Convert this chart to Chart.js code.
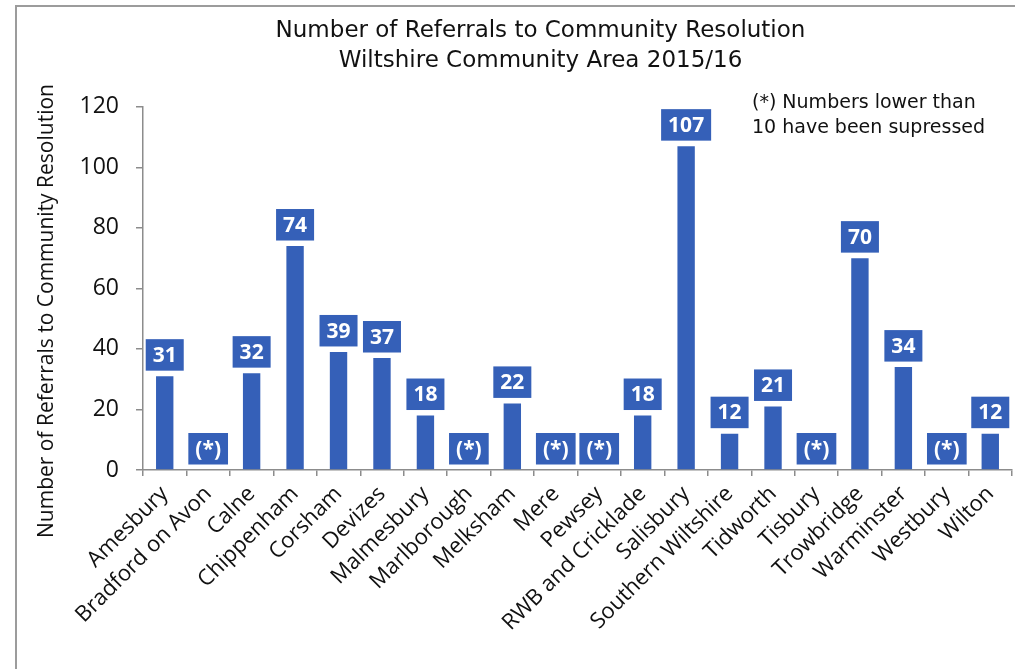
<!DOCTYPE html>
<html>
<head>
<meta charset="utf-8">
<script src="https://cdn.jsdelivr.net/npm/chart.js@4/dist/chart.umd.min.js"></script>
<style>
  html, body { margin: 0; padding: 0; background: #ffffff; }
  #wrap { position: relative; width: 1015px; height: 669px; }
</style>
</head>
<body>
<div id="wrap"><canvas id="chart" width="1015" height="669"></canvas></div>
<script>
// Community areas (x categories)
const areas = [
  'Amesbury', 'Bradford on Avon', 'Calne', 'Chippenham', 'Corsham', 'Devizes',
  'Malmesbury', 'Marlborough', 'Melksham', 'Mere', 'Pewsey', 'RWB and Cricklade',
  'Salisbury', 'Southern Wiltshire', 'Tidworth', 'Tisbury', 'Trowbridge',
  'Warminster', 'Westbury', 'Wilton'
];

// Referrals per area; null = fewer than 10, suppressed
const referrals = [31, null, 32, 74, 39, 37, 18, null, 22, null, null, 18,
                   107, 12, 21, null, 70, 34, null, 12];

const suppressedText = '(*)';
const titleLines = ['Number of Referrals to Community Resolution', 'Wiltshire Community Area 2015/16'];
const yAxisTitle = 'Number of Referrals to Community Resolution';
const noteLines = ['(*) Numbers lower than', '10 have been supressed'];
const yMin = 0, yMax = 120, yStep = 20;

const BLUE = '#3560B8';
const AXIS = '#8c8c8c';

// Outer frame of the chart panel
const framePlugin = {
  id: 'frame',
  beforeDraw(chart) {
    const ctx = chart.ctx;
    ctx.save();
    ctx.strokeStyle = '#9c9c9c';
    ctx.lineWidth = 2;
    ctx.beginPath();
    ctx.moveTo(16, 669);
    ctx.lineTo(16, 6);
    ctx.lineTo(1015, 6);
    ctx.stroke();
    ctx.restore();
  }
};

// Value boxes above each bar
const valueBoxPlugin = {
  id: 'valueBoxes',
  afterDatasetsDraw(chart) {
    const ctx = chart.ctx;
    const xs = chart.scales.x, ys = chart.scales.y;
    ctx.save();
    ctx.font = 'bold 21px "Open Sans"';
    ctx.textAlign = 'center';
    ctx.textBaseline = 'middle';
    referrals.forEach((v, i) => {
      const text = v === null ? suppressedText : String(v);
      const x = xs.getPixelForValue(i);
      const yTop = ys.getPixelForValue(v === null ? 0 : v);
      const w = ctx.measureText(text).width + 14;
      const h = 31.5;
      const bottom = yTop - 5.5;
      ctx.fillStyle = BLUE;
      ctx.fillRect(x - w / 2, bottom - h, w, h);
      ctx.fillStyle = '#ffffff';
      ctx.fillText(text, x, bottom - h / 2 + 1);
    });
    ctx.restore();
  }
};

// Rotated y-axis title and the footnote at top right
const textPlugin = {
  id: 'extraText',
  afterDraw(chart) {
    const ctx = chart.ctx;
    ctx.save();
    ctx.fillStyle = '#111111';
    ctx.font = '21px "Open Sans"';
    ctx.textAlign = 'center';
    ctx.textBaseline = 'middle';
    ctx.translate(47, 311);
    ctx.rotate(-Math.PI / 2);
    ctx.fillText(yAxisTitle, 0, 0);
    ctx.restore();

    ctx.save();
    ctx.fillStyle = '#111111';
    ctx.font = '19px "DejaVu Sans"';
    ctx.textAlign = 'left';
    ctx.textBaseline = 'alphabetic';
    ctx.fillText(noteLines[0], 752, 108);
    ctx.fillText(noteLines[1], 752, 133);
    ctx.restore();
  }
};

new Chart(document.getElementById('chart'), {
  type: 'bar',
  data: {
    labels: areas,
    datasets: [{
      data: referrals,
      backgroundColor: BLUE,
      borderWidth: 0,
      barPercentage: 0.4,
      categoryPercentage: 1.0
    }]
  },
  options: {
    responsive: false,
    animation: false,
    devicePixelRatio: 1,
    layout: { padding: { left: 69, right: 3, top: 0, bottom: 0 } },
    plugins: {
      legend: { display: false },
      tooltip: { enabled: false },
      title: {
        display: true,
        text: titleLines,
        color: '#111111',
        font: { family: '"DejaVu Sans"', size: 23, weight: 'normal', lineHeight: 1.3 },
        padding: { top: 16, bottom: 31 }
      }
    },
    scales: {
      x: {
        offset: true,
        border: { display: true, color: AXIS, width: 1.5 },
        grid: { display: true, drawOnChartArea: false, drawTicks: true, tickLength: 6, color: AXIS, lineWidth: 1.5, offset: true },
        ticks: {
          color: '#111111',
          font: { family: '"Open Sans"', size: 22 },
          maxRotation: 45,
          minRotation: 45,
          autoSkip: false,
          padding: 5
        },
        afterFit(scale) { scale.height = 199; }
      },
      y: {
        min: yMin,
        max: yMax,
        border: { display: true, color: AXIS, width: 1.5 },
        grid: { display: true, drawOnChartArea: false, drawTicks: true, tickLength: 7, color: AXIS, lineWidth: 1.5 },
        ticks: {
          stepSize: yStep,
          color: '#111111',
          font: { family: '"Open Sans"', size: 23 },
          padding: 17
        },
        afterFit(scale) { scale.width = 74; }
      }
    }
  },
  plugins: [framePlugin, valueBoxPlugin, textPlugin]
});
</script>
</body>
</html>
